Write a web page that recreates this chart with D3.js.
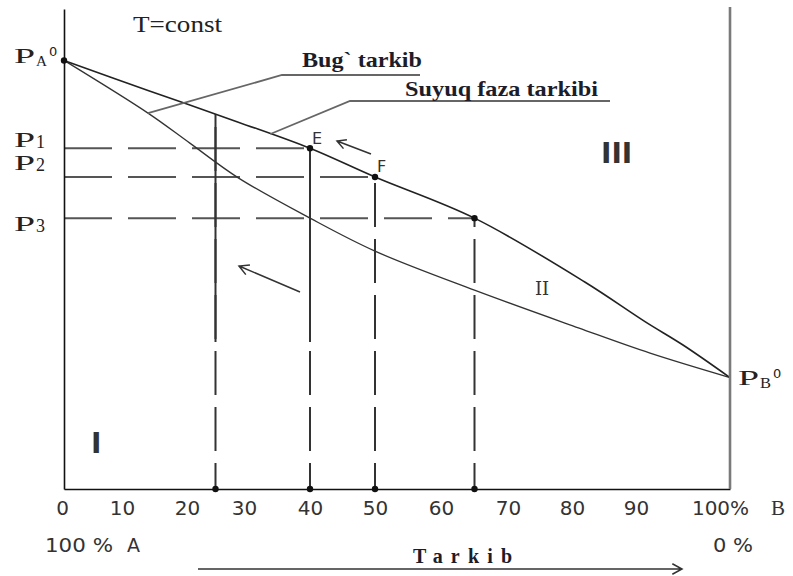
<!DOCTYPE html>
<html>
<head>
<meta charset="utf-8">
<script src="https://cdn.jsdelivr.net/npm/d3@7"></script>
<style>
  html, body { margin: 0; padding: 0; background: #fff; }
  svg { display: block; }
</style>
</head>
<body>
<svg id="chart" width="793" height="576"></svg>
<script>
// Composition axis: % of B (0 = pure A, 100 = pure B)
const compTicks  = [0, 10, 20, 30, 40, 50, 60, 70, 80, 90, 100];
const tickLabels = ["0", "10", "20", "30", "40", "50", "60", "70", "80", "90", "100%"];

// Liquid-phase line (upper curve): composition vs. total pressure
const liquidComp = [0, 14, 29, 40, 50, 65, 82, 91, 95, 100];
const liquidP    = [100, 93, 85.6, 79.5, 72.8, 63.2, 48.3, 39, 33.6, 26];

// Vapour line (lower curve)
const vaporComp = [0, 14, 20.5, 29, 40, 50, 65, 81, 91.5, 100];
const vaporP    = [100, 87.7, 80.7, 72.6, 63.2, 55.5, 46.4, 37.6, 31.7, 26];

// Pressure levels P1..P3 and where they meet the liquid line
const levelNames = ["1", "2", "3"];
const levelP     = [79.5, 72.8, 63.2];
const levelComp  = [40, 50, 65];

// Composition drop lines and the pressure at their top end
const dropComp = [25, 40, 50, 65];
const dropTopP = [87.4, 79.5, 72.8, 63.2];

const PA0 = 100, PB0 = 26, Pmax = 112;

const svg = d3.select("#chart");

// The composition axis was laid out by hand, so map each labelled tick
const x = d3.scaleLinear()
  .domain(compTicks)
  .range([64, 122, 187, 244, 310, 375, 441, 508, 572, 636, 730]);
const y = d3.scaleLinear().domain([0, Pmax]).range([489, 9]);

const ink = "#222";

function valueAt(cs, ps, c) {
  let i = d3.bisectRight(cs, c) - 1;
  i = Math.max(0, Math.min(cs.length - 2, i));
  const t = (c - cs[i]) / (cs[i + 1] - cs[i]);
  return ps[i] + t * (ps[i + 1] - ps[i]);
}

// ---- horizontal dashed pressure levels
svg.append("g").selectAll("line")
  .data(levelP.map((p, i) => ({ p, c: levelComp[i] })))
  .join("line")
  .attr("x1", x(0)).attr("x2", d => x(d.c))
  .attr("y1", d => y(d.p)).attr("y2", d => y(d.p))
  .attr("stroke", "#555").attr("stroke-width", 2)
  .attr("stroke-dasharray", "48 16");

// ---- vertical drop lines (drawn bottom-up so the dashes start at the axis)
const drops = dropComp.map((c, i) => ({ c, top: dropTopP[i] }));
svg.append("g").selectAll("line")
  .data(drops)
  .join("line")
  .attr("x1", d => x(d.c)).attr("x2", d => x(d.c))
  .attr("y1", y(0)).attr("y2", d => y(d.top))
  .attr("stroke", "#333").attr("stroke-width", 2)
  .attr("stroke-dasharray", "44 12")
  .attr("stroke-dashoffset", 18);
// the two left-hand lines run solid through the upper part
svg.append("g").selectAll("line")
  .data(drops.filter(d => d.c <= 40))
  .join("line")
  .attr("x1", d => x(d.c)).attr("x2", d => x(d.c))
  .attr("y1", d => y(d.top)).attr("y2", y(34.3))
  .attr("stroke", "#333").attr("stroke-width", 2);

// ---- curves
const line = d3.line()
  .x(d => x(d[0])).y(d => y(d[1]))
  .curve(d3.curveCatmullRom.alpha(0.5));

svg.append("path")
  .datum(d3.zip(vaporComp, vaporP))
  .attr("d", line)
  .attr("fill", "none").attr("stroke", "#333").attr("stroke-width", 1.3);

svg.append("path")
  .datum(d3.zip(liquidComp, liquidP))
  .attr("d", line)
  .attr("fill", "none").attr("stroke", ink).attr("stroke-width", 1.6);

// ---- axes
const xAxis = d3.axisBottom(x)
  .tickValues(compTicks)
  .tickFormat((d, i) => tickLabels[i])
  .tickSize(0).tickSizeOuter(0).tickPadding(12);

const gx = svg.append("g")
  .attr("transform", `translate(0,${y(0)})`)
  .call(xAxis);
gx.select(".domain").attr("stroke", "#111").attr("stroke-width", 1.6);
gx.selectAll(".tick text")
  .attr("font-family", "DejaVu Sans, sans-serif")
  .attr("font-size", 20)
  .attr("fill", "#333")
  .attr("dx", d => d === 0 ? -2 : (d === 100 ? -10 : 0));

const gy = svg.append("g")
  .attr("transform", `translate(${x(0)},0)`)
  .call(d3.axisLeft(y).tickValues([]).tickSizeOuter(0));
gy.select(".domain").attr("stroke", "#111").attr("stroke-width", 1.6);

// right-hand frame (pure B)
svg.append("line")
  .attr("x1", x(100)).attr("x2", x(100))
  .attr("y1", y(Pmax) - 2).attr("y2", y(0))
  .attr("stroke", "#7a7a7a").attr("stroke-width", 2.6);

// ---- marked points
const dots = [
  [0, PA0],
  ...levelComp.map((c, i) => [c, levelP[i]]),
  ...dropComp.map(c => [c, 0])
];
svg.append("g").selectAll("circle")
  .data(dots)
  .join("circle")
  .attr("cx", d => x(d[0])).attr("cy", d => y(d[1]))
  .attr("r", 3.2).attr("fill", "#111");

// ---- leader lines for the curve names
const vapAnchor = [14, valueAt(vaporComp, vaporP, 14)];
const liqAnchor = [34, valueAt(liquidComp, liquidP, 34)];
svg.append("path")
  .attr("d", `M${x(vapAnchor[0])},${y(vapAnchor[1])}L282,75H420`)
  .attr("fill", "none").attr("stroke", "#666").attr("stroke-width", 1.8);
svg.append("path")
  .attr("d", `M${x(liqAnchor[0])},${y(liqAnchor[1])}L350,101H610`)
  .attr("fill", "none").attr("stroke", "#666").attr("stroke-width", 1.8);

// ---- text
const serif = "Liberation Serif, Times New Roman, serif";
const wideSerif = "DejaVu Serif, serif";
const sans = "DejaVu Sans, sans-serif";

function txt(s, px, py, opts = {}) {
  const t = svg.append("text")
    .attr("x", px).attr("y", py)
    .attr("font-family", opts.family || serif)
    .attr("font-size", opts.size || 20)
    .attr("font-weight", opts.weight || "normal")
    .attr("fill", opts.fill || ink)
    .text(s);
  if (opts.anchor) t.attr("text-anchor", opts.anchor);
  if (opts.len) t.attr("textLength", opts.len).attr("lengthAdjust", opts.adjust || "spacingAndGlyphs");
  return t;
}

txt("T=const", 133, 32, { size: 23, len: 89 });
txt("Bug` tarkib", 302, 67, { size: 22, weight: "bold", len: 120, fill: "#1d1d2a" });
txt("Suyuq faza tarkibi", 405, 96, { size: 22, weight: "bold", len: 193, fill: "#1d1d2a" });

// pressure labels: a broad serif P with its index
function pLabel(px, py, sub, sup) {
  txt("P", px, py, { size: 20, len: 21 });
  txt(sub, px + 22, py + (sup ? 3 : 1), { size: sup ? 14 : 18, len: sup ? 11 : 9 });
  if (sup) txt(sup, px + 35, py - 7, { family: sans, size: 13 });
}
pLabel(14, 63, "A", "0");
const levelLabelY = [147, 170, 231];
levelNames.forEach((n, i) => pLabel(14, levelLabelY[i], n));
pLabel(738, 385, "B", "0");

// point and region labels
txt("E", 312, 144, { family: sans, size: 16, fill: "#333" });
txt("F", 377, 172, { family: sans, size: 16, fill: "#333" });
txt("I", 91, 453, { family: sans, size: 28, weight: "bold", fill: "#333" });
txt("III", 601, 163, { family: sans, size: 28, weight: "bold", fill: "#333" });
txt("II", 535, 295, { family: wideSerif, size: 18, fill: "#333" });

// composition ends
txt("B", 771, 515, { family: serif, size: 21, fill: "#333" });
txt("100 %", 45, 552, { family: sans, size: 19, fill: "#333", len: 68 });
txt("A", 127, 552, { family: sans, size: 19, fill: "#333" });
txt("0 %", 713, 552, { family: sans, size: 19, fill: "#333", len: 40 });
txt("Tarkib", 413, 563, { size: 20, weight: "bold", len: 99, adjust: "spacing", fill: "#1d1d2a" });

// ---- arrows
const arrowStroke = "#333";
function arrow(x1, y1, x2, y2, head) {
  const a = Math.atan2(y2 - y1, x2 - x1);
  const w = 0.5;
  svg.append("path")
    .attr("d",
      `M${x1},${y1}L${x2},${y2}` +
      `M${x2 - head * Math.cos(a - w)},${y2 - head * Math.sin(a - w)}L${x2},${y2}` +
      `L${x2 - head * Math.cos(a + w)},${y2 - head * Math.sin(a + w)}`)
    .attr("fill", "none").attr("stroke", arrowStroke).attr("stroke-width", 1.5);
}
arrow(371, 154, 337, 141, 10);
arrow(300, 292, 239, 266, 11);
arrow(198, 569, 682, 569, 11);
</script>
</body>
</html>
